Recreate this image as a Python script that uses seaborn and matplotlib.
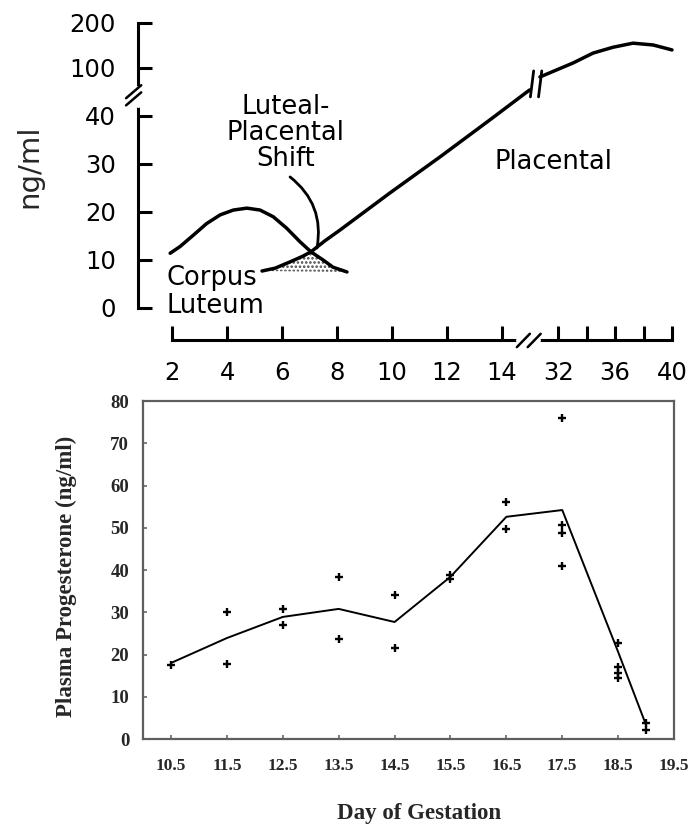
import numpy as np
import pandas as pd
import matplotlib
matplotlib.use("Agg")
import matplotlib.pyplot as plt
import seaborn as sns

# ---------------- upper panel: schematic progesterone sources ----------------
cl_day = [1.93, 2.29, 2.78, 3.26, 3.75, 4.23, 4.72, 5.20, 5.68, 6.17, 6.65, 7.05, 7.49, 7.85, 8.36]
cl_ng = [11.4, 12.8, 15.2, 17.6, 19.4, 20.4, 20.8, 20.4, 19.0, 16.6, 13.8, 11.7, 10.0, 8.5, 7.5]

plac_early_day = [5.27, 5.75, 6.29, 6.76, 7.05, 7.56, 8.11, 9.93, 11.75, 13.56, 15.0]
plac_early_ng = [7.7, 8.3, 9.6, 10.8, 11.7, 14.0, 16.25, 24.0, 31.5, 39.2, 72.5]

plac_late_day = [30.72, 33.04, 34.45, 35.86, 37.26, 38.67, 40.0]
plac_late_ng = [88.8, 111, 133, 146, 155, 151, 140]

top_yticks = [0, 10, 20, 30, 40, 100, 200]
top_xticks = [2, 4, 6, 8, 10, 12, 14, 32, 34, 36, 38, 40]
top_xlabels = ["2", "4", "6", "8", "10", "12", "14", "32", "", "36", "", "40"]

# ---------------- lower panel: measured plasma progesterone ----------------
pt_day = [10.5, 11.5, 11.5, 12.5, 12.5, 13.5, 13.5, 14.5, 14.5, 15.5, 15.5,
          16.5, 16.5, 17.5, 17.5, 17.5, 17.5, 18.5, 18.5, 18.5, 18.5, 19.0, 19.0]
pt_ng = [17.5, 30.0, 17.8, 30.8, 27.0, 38.4, 23.7, 34.1, 21.5, 37.9, 38.8,
         56.1, 49.7, 76.0, 50.6, 48.7, 40.9, 22.7, 17.1, 15.6, 14.4, 3.8, 2.1]

mean_day = [10.5, 11.5, 12.5, 13.5, 14.5, 15.5, 16.5, 17.5, 18.5, 19.0]
mean_ng = [18.0, 23.9, 28.9, 30.8, 27.7, 38.4, 52.6, 54.2, 20.6, 3.3]

bot_xticks = [10.5, 11.5, 12.5, 13.5, 14.5, 15.5, 16.5, 17.5, 18.5, 19.5]
bot_yticks = [0, 10, 20, 30, 40, 50, 60, 70, 80]

# ---------------- styling ----------------
sns.set_style("ticks")
plt.rcParams["font.family"] = ["DejaVu Sans"]
plt.rcParams["hatch.linewidth"] = 1.2

fig = plt.figure(figsize=(6.99, 8.25), dpi=100)

# broken axes: piecewise-linear scales
XB = [-50, 15, 30, 100]
XP = [-50, 15, 15.005, 16.04 + 68 * 0.5175]
YB = [-50, 40, 100, 1000]
YP = [-50, 40, 50, 50 + 900 * 0.094]


def xf(v):
    return np.interp(v, XB, XP)


def xi(p):
    return np.interp(p, XP, XB)


def yf(v):
    return np.interp(v, YB, YP)


def yi(p):
    return np.interp(p, YP, YB)


ax = fig.add_axes([0.1974, 0.5879, 0.7754, 0.3939])
ax.set_xscale("function", functions=(xf, xi))
ax.set_yscale("function", functions=(yf, yi))
ax.set_xlim(0.76, 40.56)
ax.set_ylim(-6.67, 217.4)

lw = 2.5
sns.lineplot(x=cl_day, y=cl_ng, ax=ax, color="black", lw=lw, sort=False, estimator=None)
sns.lineplot(x=plac_early_day, y=plac_early_ng, ax=ax, color="black", lw=lw, sort=False, estimator=None)
sns.lineplot(x=plac_late_day, y=plac_late_ng, ax=ax, color="black", lw=lw, sort=False, estimator=None)

# overlap area under the crossing of the two curves
i_p = int(np.argmin(np.abs(np.array(plac_early_day) - 7.05)))
i_c = int(np.argmin(np.abs(np.array(cl_day) - 7.05)))
fx = list(plac_early_day[:i_p + 1]) + list(cl_day[i_c + 1:])
fy = list(plac_early_ng[:i_p + 1]) + list(cl_ng[i_c + 1:])
ax.fill(fx, fy, facecolor="none", edgecolor="#444444", hatch="....", linewidth=0, zorder=1)

ax.set_yticks(top_yticks)
ax.set_yticklabels([str(t) for t in top_yticks])
ax.set_xticks(top_xticks)
ax.set_xticklabels(top_xlabels)
ax.minorticks_off()
ax.tick_params(axis="both", direction="in", length=10, width=2.2, labelsize=17.5, colors="black")
ax.tick_params(axis="y", pad=16)
ax.tick_params(axis="x", pad=15)
for s in ["top", "right"]:
    ax.spines[s].set_visible(False)
for s in ["left", "bottom"]:
    ax.spines[s].set_linewidth(2.2)
    ax.spines[s].set_color("black")
ax.spines["left"].set_bounds(0, 200)
ax.spines["bottom"].set_bounds(2, 40)

ax.set_ylabel("ng/ml", fontsize=21, va="center")
ax.yaxis.set_label_coords(-0.2, 0.535)

# break marks on the y axis
ax.plot([0, 0], [0.727, 0.772], transform=ax.transAxes, color="white", lw=5, clip_on=False, zorder=6)
for off in (0.0, 0.022):
    ax.plot([-0.022, 0.006], [0.722 + off, 0.762 + off], transform=ax.transAxes,
            color="black", lw=1.8, clip_on=False, zorder=7)
# break marks on the x axis
ax.plot([0.703, 0.737], [0, 0], transform=ax.transAxes, color="white", lw=5, clip_on=False, zorder=6)
for off in (0.0, 0.02):
    ax.plot([0.699 + off, 0.723 + off], [-0.022, 0.019], transform=ax.transAxes,
            color="black", lw=1.8, clip_on=False, zorder=7)
# break marks on the placental curve
for bx in (0.726, 0.741):
    ax.plot([bx - 0.002, bx + 0.004], [0.748, 0.828], transform=ax.transAxes,
            color="black", lw=2.0, zorder=7)

txt_kw = dict(transform=ax.transAxes, fontsize=18.5, color="black")
ax.text(0.766, 0.548, "Placental", ha="center", va="center", **txt_kw)
ax.text(0.272, 0.637, "Luteal-\nPlacental\nShift", ha="center", va="center", linespacing=1.02, **txt_kw)
ax.text(0.052, 0.148, "Corpus\nLuteum", ha="left", va="center", linespacing=1.08, **txt_kw)
ax.annotate("", xy=(7.27, 12.5), xytext=(6.29, 27.3),
            arrowprops=dict(arrowstyle="-", color="black", lw=2.0,
                            connectionstyle="arc3,rad=-0.3", shrinkA=0, shrinkB=0))

# ---------------- lower panel ----------------
serif = dict(family=["Liberation Serif", "DejaVu Serif"], weight="bold")
ax2 = fig.add_axes([0.2046, 0.1042, 0.7597, 0.4097])
sns.lineplot(x=mean_day, y=mean_ng, ax=ax2, color="black", lw=1.4, sort=False, estimator=None)
sns.scatterplot(x=pt_day, y=pt_ng, ax=ax2, marker="+", s=36, color="black", linewidth=1.7, zorder=4)
ax2.set_xlim(10.0, 19.5)
ax2.set_ylim(0, 80)
ax2.set_xticks(bot_xticks)
ax2.set_xticklabels([f"{t:.1f}" for t in bot_xticks], fontdict=dict(size=12.5, **serif))
ax2.set_yticks(bot_yticks)
ax2.set_yticklabels([str(t) for t in bot_yticks], fontdict=dict(size=13.5, **serif))
ax2.tick_params(axis="both", direction="in", length=3, width=1.2, color="#666666")
ax2.tick_params(axis="y", pad=10)
ax2.tick_params(axis="x", pad=14)
for s in ax2.spines.values():
    s.set_visible(True)
    s.set_color("#5e5e5e")
    s.set_linewidth(1.6)
ax2.set_xlabel("Day of Gestation", fontdict=dict(size=16.5, **serif), va="center")
ax2.xaxis.set_label_coords(0.52, -0.219)
ax2.set_ylabel("Plasma Progesterone (ng/ml)", fontdict=dict(size=16.5, **serif), va="center")
ax2.yaxis.set_label_coords(-0.145, 0.482)

fig.savefig("out.png", dpi=100, facecolor="white")
